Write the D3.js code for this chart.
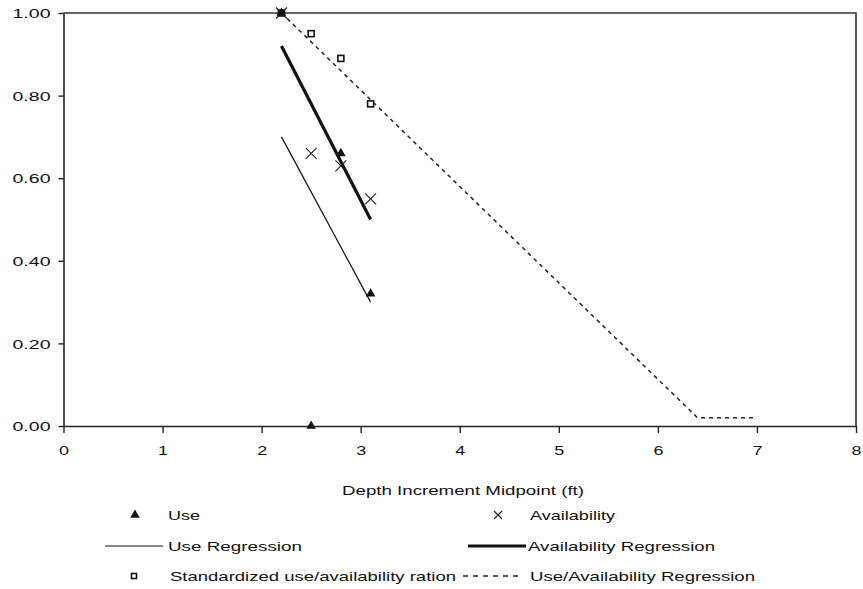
<!DOCTYPE html>
<html>
<head>
<meta charset="utf-8">
<script src="https://cdn.jsdelivr.net/npm/d3@7/dist/d3.min.js"></script>
<style>
  html, body { margin: 0; padding: 0; background: #fff; }
  svg { display: block; }
  text { font-family: "Liberation Sans", Arial, sans-serif; fill: #111; }
</style>
</head>
<body>
<div id="chart"></div>
<script>
// Depth increment midpoints (ft)
const depths = [2.2, 2.5, 2.8, 3.1];
// Proportional use at each depth
const useValues = [1.00, 0.00, 0.66, 0.32];
// Proportional availability at each depth
const availValues = [1.00, 0.66, 0.63, 0.55];
// Standardized use/availability ratio
const ratioValues = [1.00, 0.95, 0.89, 0.78];

// Fitted lines, as [depth, value] vertices
const useRegression = [[2.2, 0.70], [3.1, 0.30]];
const availRegression = [[2.2, 0.92], [3.1, 0.50]];
const ratioRegression = [[2.2, 1.00], [6.4, 0.02], [7.0, 0.02]];

const xTicks = [0, 1, 2, 3, 4, 5, 6, 7, 8];
const yTicks = [0, 0.2, 0.4, 0.6, 0.8, 1.0];
const xTitle = "Depth Increment Midpoint (ft)";

const W = 863, H = 589;
const svg = d3.select("#chart").append("svg").attr("width", W).attr("height", H);

const x = d3.scaleLinear().domain([0, 8]).range([63.5, 856]);
const y = d3.scaleLinear().domain([0, 1]).range([426, 13]);

const ink = "#111";

// Plot frame (top and right edges)
svg.append("path")
  .attr("d", `M${x(0)},${y(1)}H${x(8)}V${y(0)}`)
  .attr("fill", "none").attr("stroke", "#333").attr("stroke-width", 1.6);

// Y axis
const yAxis = svg.append("g").attr("transform", `translate(${x(0)},0)`)
  .call(d3.axisLeft(y).tickValues(yTicks).tickFormat(d3.format(".2f")).tickSize(5).tickSizeOuter(0));
// X axis
const xAxis = svg.append("g").attr("transform", `translate(0,${y(0)})`)
  .call(d3.axisBottom(x).tickValues(xTicks).tickFormat(d3.format("d")).tickSize(7).tickSizeOuter(0));

[yAxis, xAxis].forEach(g => {
  g.select(".domain").attr("stroke", "#222").attr("stroke-width", 1.6);
  g.selectAll(".tick line").attr("stroke", "#222").attr("stroke-width", 1.4);
  g.selectAll("text").attr("font-size", 13.5).attr("fill", ink)
    .attr("font-family", "Liberation Sans, Arial, sans-serif");
});
yAxis.selectAll("text").attr("x", -13).attr("dy", "0.35em")
  .attr("textLength", 38).attr("lengthAdjust", "spacingAndGlyphs");
xAxis.selectAll("text").attr("y", 24).attr("dy", "0.35em")
  .attr("textLength", 10).attr("lengthAdjust", "spacingAndGlyphs");

const line = d3.line().x(d => x(d[0])).y(d => y(d[1]));

// Regression lines
svg.append("path").datum(useRegression).attr("d", line)
  .attr("fill", "none").attr("stroke", ink).attr("stroke-width", 1.2);
svg.append("path").datum(availRegression).attr("d", line)
  .attr("fill", "none").attr("stroke", ink).attr("stroke-width", 3.2);
svg.append("path").datum(ratioRegression).attr("d", line)
  .attr("fill", "none").attr("stroke", "#222").attr("stroke-width", 1.5)
  .attr("stroke-dasharray", "4,4");

// Marker shapes
const tri = d3.symbol().type(d3.symbolTriangle).size(40);
function drawTriangle(g, cx, cy) {
  g.append("path").attr("d", tri()).attr("transform", `translate(${cx},${cy})`).attr("fill", ink);
}
function drawCross(g, cx, cy, r) {
  g.append("path")
    .attr("d", `M${cx - r},${cy - r}L${cx + r},${cy + r}M${cx - r},${cy + r}L${cx + r},${cy - r}`)
    .attr("stroke", "#222").attr("stroke-width", 1.1).attr("fill", "none");
}
function drawSquare(g, cx, cy, s) {
  g.append("rect").attr("x", cx - s / 2).attr("y", cy - s / 2).attr("width", s).attr("height", s)
    .attr("fill", "#fff").attr("stroke", ink).attr("stroke-width", 1.6);
}

const marks = svg.append("g");
depths.forEach((d, i) => drawSquare(marks, x(d), y(ratioValues[i]), 6));
depths.forEach((d, i) => drawCross(marks, x(d), y(availValues[i]), 5.5));
depths.forEach((d, i) => drawTriangle(marks, x(d), y(useValues[i])));

// Axis title
svg.append("text").attr("x", 463).attr("y", 490).attr("dy", "0.35em")
  .attr("text-anchor", "middle").attr("font-size", 13.5)
  .attr("textLength", 242).attr("lengthAdjust", "spacingAndGlyphs")
  .text(xTitle);

// Legend
const legendRows = [515, 546, 576];
const leg = svg.append("g");
function legendText(tx, ty, label, len) {
  leg.append("text").attr("x", tx).attr("y", ty).attr("dy", "0.35em")
    .attr("font-size", 13.5).attr("textLength", len).attr("lengthAdjust", "spacingAndGlyphs")
    .text(label);
}
drawTriangle(leg, 135, legendRows[0]);
legendText(168, legendRows[0], "Use", 32);
drawCross(leg, 498, legendRows[0], 4);
legendText(530, legendRows[0], "Availability", 85);

leg.append("line").attr("x1", 105).attr("x2", 163).attr("y1", legendRows[1]).attr("y2", legendRows[1])
  .attr("stroke", ink).attr("stroke-width", 1.2);
legendText(168, legendRows[1], "Use Regression", 134);
leg.append("line").attr("x1", 468).attr("x2", 526).attr("y1", legendRows[1]).attr("y2", legendRows[1])
  .attr("stroke", ink).attr("stroke-width", 3.2);
legendText(528, legendRows[1], "Availability Regression", 187);

drawSquare(leg, 134, legendRows[2], 5);
legendText(170, legendRows[2], "Standardized use/availability ration", 286);
leg.append("line").attr("x1", 463).attr("x2", 521).attr("y1", legendRows[2]).attr("y2", legendRows[2])
  .attr("stroke", "#222").attr("stroke-width", 1.5).attr("stroke-dasharray", "5,5");
legendText(530, legendRows[2], "Use/Availability Regression", 225);
</script>
</body>
</html>
